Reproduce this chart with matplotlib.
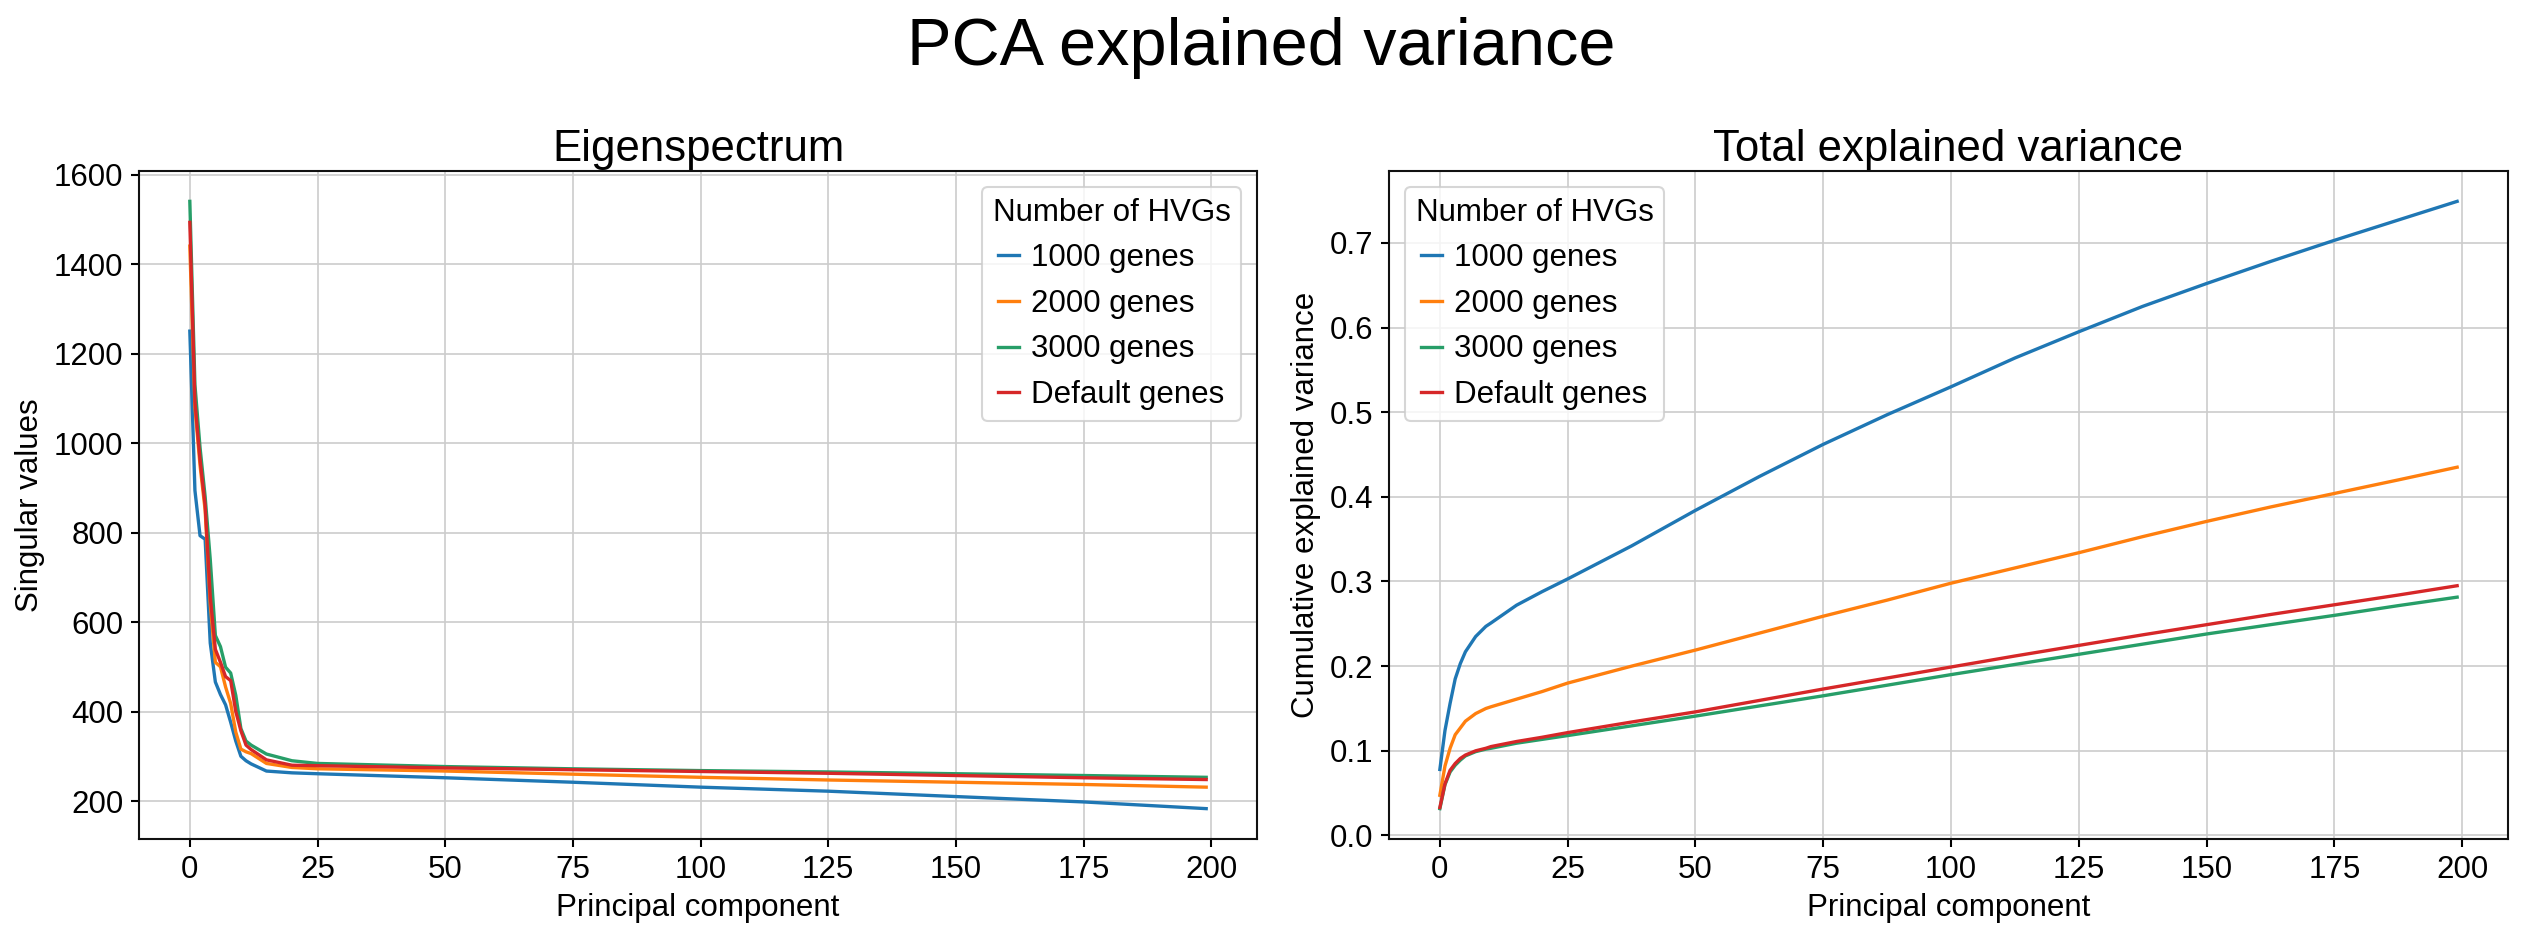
import matplotlib
matplotlib.use("Agg")
import matplotlib.pyplot as plt

plt.rcParams['font.family'] = ['Liberation Sans', 'DejaVu Sans']

# series labels / colours (scanpy default palette)
labels = ['1000 genes', '2000 genes', '3000 genes', 'Default genes']
colors = ['#1f77b4', '#ff7f0e', '#279e68', '#d62728']

# Eigenspectrum (singular values) read at these components
pc_eig = [0, 1, 2, 3, 4, 5, 6, 7, 8, 9, 10, 11, 12, 15, 20, 25, 50, 75, 100, 125, 150, 175, 199]
sv_1000 = [1250, 894, 793, 785, 553, 466, 438, 415, 376, 334, 300, 290, 283, 267, 263, 261, 252, 242, 231, 222, 210, 198, 183]
sv_2000 = [1440, 1080, 950, 850, 640, 510, 500, 455, 418, 354, 316, 310, 306, 284, 275, 272, 267, 260, 253, 247, 242, 237, 231]
sv_3000 = [1540, 1130, 990, 880, 740, 570, 545, 499, 486, 436, 362, 334, 325, 305, 290, 284, 277, 272, 268, 265, 261, 257, 253]
sv_default = [1493, 1092, 963, 861, 656, 539, 510, 478, 469, 400, 357, 325, 315, 292, 280, 279, 274, 270, 266, 262, 257, 252, 248]

# cumulative explained variance read at these components
pc_cum = [0, 1, 2, 3, 4, 5, 7, 9, 10, 15, 20, 25, 37.5, 50, 62.5, 75, 87.5, 100,
          112.5, 125, 137.5, 150, 162.5, 175, 187.5, 199]
cv_1000 = [0.078, 0.124, 0.156, 0.185, 0.203, 0.217, 0.235, 0.247, 0.251, 0.272, 0.288, 0.303,
           0.342, 0.384, 0.424, 0.462, 0.497, 0.530, 0.564, 0.595, 0.625, 0.652, 0.678, 0.703, 0.727, 0.749]
cv_2000 = [0.0475, 0.082, 0.103, 0.119, 0.127, 0.135, 0.144, 0.150, 0.152, 0.161, 0.170, 0.180,
           0.200, 0.219, 0.239, 0.259, 0.278, 0.298, 0.316, 0.334, 0.353, 0.371, 0.388, 0.404, 0.420, 0.435]
cv_3000 = [0.0317, 0.060, 0.075, 0.083, 0.089, 0.094, 0.099, 0.102, 0.103, 0.109, 0.1135, 0.118,
           0.1295, 0.141, 0.153, 0.165, 0.1775, 0.190, 0.202, 0.214, 0.226, 0.238, 0.249, 0.260, 0.2715, 0.2815]
cv_default = [0.033, 0.061, 0.077, 0.085, 0.091, 0.095, 0.100, 0.103, 0.105, 0.111, 0.116, 0.1215,
              0.134, 0.146, 0.1595, 0.173, 0.186, 0.199, 0.212, 0.2245, 0.237, 0.249, 0.261, 0.2725, 0.284, 0.295]

W, H = 2523, 937
fig = plt.figure(figsize=(W / 150, H / 150), dpi=150)
ax1 = fig.add_axes([139 / W, 1 - 839 / H, 1118 / W, 668 / H])
ax2 = fig.add_axes([1389 / W, 1 - 839 / H, 1119 / W, 668 / H])

fs = 15
for ax, xs, series in [(ax1, pc_eig, [sv_1000, sv_2000, sv_3000, sv_default]),
                       (ax2, pc_cum, [cv_1000, cv_2000, cv_3000, cv_default])]:
    for ys, lab, c in zip(series, labels, colors):
        ax.plot(xs, ys, color=c, lw=1.6, label=lab)
    ax.grid(True, color='#cccccc', lw=0.8)
    ax.set_axisbelow(True)
    for s in ax.spines.values():
        s.set_linewidth(1.0)
        s.set_color('#111111')
    ax.tick_params(labelsize=fs, length=4, width=1.0)
    ax.set_xlabel('Principal component', fontsize=fs)
    ax.set_xticks([0, 25, 50, 75, 100, 125, 150, 175, 200])

ax1.set_title('Eigenspectrum', fontsize=21, pad=5)
ax2.set_title('Total explained variance', fontsize=21, pad=5)
ax1.set_ylabel('Singular values', fontsize=fs)
ax2.set_ylabel('Cumulative explained variance', fontsize=fs)

leg_kw = dict(title='Number of HVGs', fontsize=fs, title_fontsize=fs, handlelength=0.65,
              handletextpad=0.4, labelspacing=0.5, borderpad=0.35, edgecolor='#cccccc', fancybox=True)
ax1.legend(loc='upper right', **leg_kw)
ax2.legend(loc='upper left', **leg_kw)

fig.suptitle('PCA explained variance', fontsize=32, y=1 - 65 / H, va='baseline')

plt.savefig('out.png', dpi=150)
